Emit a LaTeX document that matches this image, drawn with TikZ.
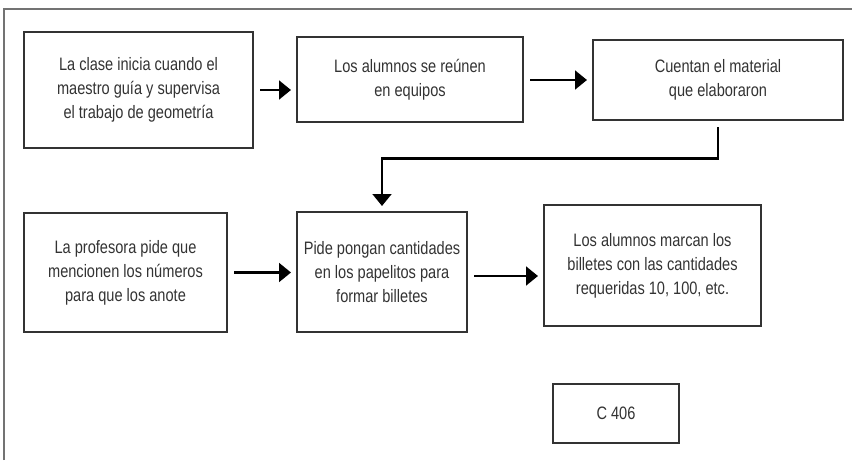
\documentclass[tikz,border=0pt]{standalone}
\usepackage{fontspec}
\setmainfont[FakeStretch=0.81]{Liberation Sans}
\usetikzlibrary{arrows.meta}

\begin{document}
\begin{tikzpicture}[x=0.75pt, y=-0.75pt, >={Triangle[length=9pt,width=14pt]},
  caja/.style={rectangle, draw=black!80, line width=1pt, align=center, text=black!80,
    inner sep=0pt, font=\fontsize{13.5pt}{18pt}\selectfont},
  flecha/.style={->, line width=2.2pt, shorten <=5pt, shorten >=4pt}]

  \useasboundingbox (0,0) rectangle (852,460);
  % marco
  \draw[black!55, line width=1.5pt] (4,460) -- (4,9) -- (852,9);

  % fila superior
  \node[caja, minimum width=171.75pt, minimum height=87pt]    (inicio)   at (138.5,90)  {La clase inicia cuando el\\maestro guía y supervisa\\el trabajo de geometría};
  \node[caja, minimum width=169.5pt, minimum height=63.75pt]  (equipos)  at (410,79.5)  {Los alumnos se reúnen\\en equipos};
  \node[caja, minimum width=187.5pt, minimum height=60pt]     (material) at (718,80)    {Cuentan el material\\que elaboraron};
  % fila inferior
  \node[caja, minimum width=152.25pt, minimum height=89.25pt] (anote)     at (125.5,272.5) {La profesora pide que\\mencionen los números\\para que los anote};
  \node[caja, minimum width=127.5pt, minimum height=90pt]     (papelitos) at (382,272)     {Pide pongan cantidades\\en los papelitos para\\formar billetes};
  \node[caja, minimum width=162.75pt, minimum height=90.75pt] (billetes)  at (652.5,265.5) {Los alumnos marcan los\\billetes con las cantidades\\requeridas 10, 100, etc.};
  \node[caja, minimum width=94.5pt, minimum height=44.25pt]   (clave)     at (616,413.5)   {C 406};

  \draw[flecha] (inicio.east) -- (inicio.east -| equipos.west);
  \draw[flecha] (material.west -| equipos.east) -- (material.west);
  \draw[flecha] (material.south) -- ++(0,38) -| (papelitos.north);
  \draw[flecha] (anote.east) -- (anote.east -| papelitos.west);
  \draw[flecha] ([yshift=-3pt]papelitos.east) -- ([yshift=-3pt]papelitos.east -| billetes.west);
\end{tikzpicture}
\end{document}
